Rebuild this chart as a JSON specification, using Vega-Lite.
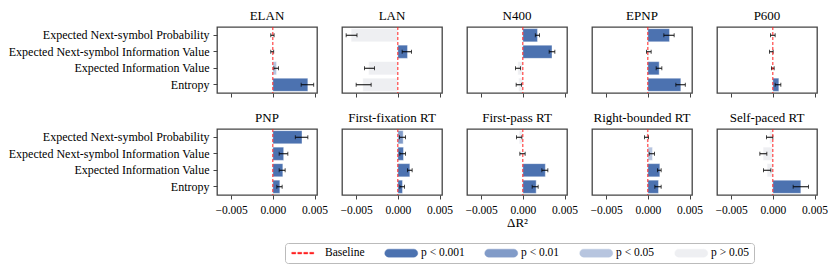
{
  "$schema": "https://vega.github.io/schema/vega-lite/v6.json",
  "padding": {"left": 7, "top": 8, "right": 5, "bottom": 5},
  "background": "white",
  "data": {"values": [
    {"panel": "ELAN", "measure": "Expected Next-symbol Probability", "value": -0.00005, "lo": -0.00025, "hi": 0.00015, "sig": "p > 0.05"},
    {"panel": "ELAN", "measure": "Expected Next-symbol Information Value", "value": -0.00008, "lo": -0.00025, "hi": 0.0001, "sig": "p > 0.05"},
    {"panel": "ELAN", "measure": "Expected Information Value", "value": 0.00044, "lo": 0.00012, "hi": 0.00068, "sig": "p < 0.05"},
    {"panel": "ELAN", "measure": "Entropy", "value": 0.0042, "lo": 0.0034, "hi": 0.0049, "sig": "p < 0.001"},
    {"panel": "LAN", "measure": "Expected Next-symbol Probability", "value": -0.0056, "lo": -0.0062, "hi": -0.0049, "sig": "p > 0.05"},
    {"panel": "LAN", "measure": "Expected Next-symbol Information Value", "value": 0.00116, "lo": 0.00052, "hi": 0.00164, "sig": "p < 0.001"},
    {"panel": "LAN", "measure": "Expected Information Value", "value": -0.0035, "lo": -0.004, "hi": -0.0028, "sig": "p > 0.05"},
    {"panel": "LAN", "measure": "Entropy", "value": -0.0042, "lo": -0.005, "hi": -0.0032, "sig": "p > 0.05"},
    {"panel": "N400", "measure": "Expected Next-symbol Probability", "value": 0.00176, "lo": 0.0015, "hi": 0.002, "sig": "p < 0.001"},
    {"panel": "N400", "measure": "Expected Next-symbol Information Value", "value": 0.0035, "lo": 0.00316, "hi": 0.00384, "sig": "p < 0.001"},
    {"panel": "N400", "measure": "Expected Information Value", "value": -0.0006, "lo": -0.00088, "hi": -0.00028, "sig": "p > 0.05"},
    {"panel": "N400", "measure": "Entropy", "value": -0.0005, "lo": -0.0008, "hi": -0.00016, "sig": "p > 0.05"},
    {"panel": "EPNP", "measure": "Expected Next-symbol Probability", "value": 0.0026, "lo": 0.00192, "hi": 0.00316, "sig": "p < 0.001"},
    {"panel": "EPNP", "measure": "Expected Next-symbol Information Value", "value": 0.00012, "lo": -0.00016, "hi": 0.0004, "sig": "p > 0.05"},
    {"panel": "EPNP", "measure": "Expected Information Value", "value": 0.00136, "lo": 0.001, "hi": 0.00168, "sig": "p < 0.001"},
    {"panel": "EPNP", "measure": "Entropy", "value": 0.00396, "lo": 0.00336, "hi": 0.0045, "sig": "p < 0.001"},
    {"panel": "P600", "measure": "Expected Next-symbol Probability", "value": 0.0, "lo": -0.00028, "hi": 0.00028, "sig": "p > 0.05"},
    {"panel": "P600", "measure": "Expected Next-symbol Information Value", "value": -0.0001, "lo": -0.0004, "hi": 0.00004, "sig": "p > 0.05"},
    {"panel": "P600", "measure": "Expected Information Value", "value": 0.0, "lo": -0.00016, "hi": 0.00016, "sig": "p > 0.05"},
    {"panel": "P600", "measure": "Entropy", "value": 0.00072, "lo": 0.00028, "hi": 0.00096, "sig": "p < 0.001"},
    {"panel": "PNP", "measure": "Expected Next-symbol Probability", "value": 0.0035, "lo": 0.0027, "hi": 0.0042, "sig": "p < 0.001"},
    {"panel": "PNP", "measure": "Expected Next-symbol Information Value", "value": 0.0013, "lo": 0.00076, "hi": 0.0018, "sig": "p < 0.001"},
    {"panel": "PNP", "measure": "Expected Information Value", "value": 0.0012, "lo": 0.00076, "hi": 0.00148, "sig": "p < 0.001"},
    {"panel": "PNP", "measure": "Entropy", "value": 0.00084, "lo": 0.00048, "hi": 0.00112, "sig": "p < 0.001"},
    {"panel": "First-fixation RT", "measure": "Expected Next-symbol Probability", "value": 0.00064, "lo": 0.0002, "hi": 0.00092, "sig": "p < 0.01"},
    {"panel": "First-fixation RT", "measure": "Expected Next-symbol Information Value", "value": 0.00068, "lo": 0.00024, "hi": 0.00092, "sig": "p < 0.001"},
    {"panel": "First-fixation RT", "measure": "Expected Information Value", "value": 0.00144, "lo": 0.00116, "hi": 0.00172, "sig": "p < 0.001"},
    {"panel": "First-fixation RT", "measure": "Entropy", "value": 0.00056, "lo": 0.00024, "hi": 0.0008, "sig": "p < 0.001"},
    {"panel": "First-pass RT", "measure": "Expected Next-symbol Probability", "value": -0.00044, "lo": -0.00076, "hi": -0.00012, "sig": "p > 0.05"},
    {"panel": "First-pass RT", "measure": "Expected Next-symbol Information Value", "value": -0.00004, "lo": -0.00036, "hi": 0.00028, "sig": "p > 0.05"},
    {"panel": "First-pass RT", "measure": "Expected Information Value", "value": 0.0027, "lo": 0.00228, "hi": 0.003, "sig": "p < 0.001"},
    {"panel": "First-pass RT", "measure": "Entropy", "value": 0.0016, "lo": 0.00112, "hi": 0.00184, "sig": "p < 0.001"},
    {"panel": "Right-bounded RT", "measure": "Expected Next-symbol Probability", "value": -0.00016, "lo": -0.0004, "hi": 0.00008, "sig": "p > 0.05"},
    {"panel": "Right-bounded RT", "measure": "Expected Next-symbol Information Value", "value": 0.00056, "lo": 0.00016, "hi": 0.0008, "sig": "p < 0.05"},
    {"panel": "Right-bounded RT", "measure": "Expected Information Value", "value": 0.00144, "lo": 0.00116, "hi": 0.0016, "sig": "p < 0.001"},
    {"panel": "Right-bounded RT", "measure": "Entropy", "value": 0.00128, "lo": 0.00084, "hi": 0.0016, "sig": "p < 0.001"},
    {"panel": "Self-paced RT", "measure": "Expected Next-symbol Probability", "value": -0.00038, "lo": -0.00076, "hi": 0.0, "sig": "p > 0.05"},
    {"panel": "Self-paced RT", "measure": "Expected Next-symbol Information Value", "value": -0.00116, "lo": -0.00156, "hi": -0.00072, "sig": "p > 0.05"},
    {"panel": "Self-paced RT", "measure": "Expected Information Value", "value": -0.00068, "lo": -0.00112, "hi": -0.00024, "sig": "p > 0.05"},
    {"panel": "Self-paced RT", "measure": "Entropy", "value": 0.00336, "lo": 0.00244, "hi": 0.00428, "sig": "p < 0.001"}
  ]},
  "columns": 5,
  "spacing": {"row": 36, "column": 25},
  "bounds": "flush",
  "concat": [
    {"title": "ELAN", "width": 100, "height": 66, "transform": [{"filter": "datum.panel === 'ELAN'"}],
     "layer": [
      {"mark": "bar", "encoding": {
        "y": {"field": "measure", "type": "nominal", "sort": ["Expected Next-symbol Probability", "Expected Next-symbol Information Value", "Expected Information Value", "Entropy"], "scale": {"paddingInner": 0.2, "paddingOuter": 0.1}, "axis": {"title": null, "labelLimit": 400, "labelPadding": 4, "labelFontSize": 12, "ticks": true}},
        "x": {"field": "value", "type": "quantitative", "scale": {"domain": [-0.0067, 0.0053], "nice": false, "zero": false}, "axis": {"title": null, "labels": false, "values": [-0.005, 0, 0.005]}},
        "color": {"field": "sig", "type": "nominal", "scale": {"domain": ["Baseline", "p < 0.001", "p < 0.01", "p < 0.05", "p > 0.05"], "range": ["#ff2020", "#4c72b0", "#819bc8", "#b7c5df", "#eeeff2"]},
          "legend": {"orient": "none", "legendX": 68, "legendY": 216, "direction": "horizontal", "title": null, "symbolSize": 100, "symbolOffset": 10.5, "labelOffset": 14, "columnPadding": 18, "padding": 4, "cornerRadius": 3, "strokeColor": "#bbbbbb", "fillColor": "white", "labelFont": "Liberation Serif", "labelFontSize": 11.5, "labelColor": "black", "symbolOpacity": 1,
            "symbolType": {"expr": "datum.value === 'Baseline' ? 'M-2.7,-0.16H-1.9V0.16H-2.7Z M-1.5,-0.16H-0.7V0.16H-1.5Z M-0.3,-0.16H0.5V0.16H-0.3Z M0.9,-0.16H1.7V0.16H0.9Z' : 'M-2.5,-0.8H2.5A0.8,0.8 0 0 1 2.5,0.8H-2.5A0.8,0.8 0 0 1 -2.5,-0.8Z'"},
            "symbolStrokeWidth": 0,
            "symbolStrokeColor": "transparent"
          }
        }
      }},
      {"mark": {"type": "errorbar", "color": "black", "thickness": 1, "ticks": {"size": 4}}, "encoding": {
        "y": {"field": "measure", "type": "nominal", "sort": ["Expected Next-symbol Probability", "Expected Next-symbol Information Value", "Expected Information Value", "Entropy"]},
        "x": {"field": "lo", "type": "quantitative"}, "x2": {"field": "hi"}}},
      {"transform": [{"filter": "datum.measure === 'Entropy'"}], "mark": {"type": "rule", "strokeDash": [3, 2], "strokeWidth": 1}, "encoding": {"x": {"datum": 0}, "color": {"datum": "Baseline", "type": "nominal"}}}
     ]},
    {"title": "LAN", "width": 100, "height": 66, "transform": [{"filter": "datum.panel === 'LAN'"}],
     "layer": [
      {"mark": "bar", "encoding": {
        "y": {"field": "measure", "type": "nominal", "sort": ["Expected Next-symbol Probability", "Expected Next-symbol Information Value", "Expected Information Value", "Entropy"], "scale": {"paddingInner": 0.2, "paddingOuter": 0.1}, "axis": null},
        "x": {"field": "value", "type": "quantitative", "scale": {"domain": [-0.0067, 0.0053], "nice": false, "zero": false}, "axis": {"title": null, "labels": false, "values": [-0.005, 0, 0.005]}},
        "color": {"field": "sig", "type": "nominal"}}},
      {"mark": {"type": "errorbar", "color": "black", "thickness": 1, "ticks": {"size": 4}}, "encoding": {
        "y": {"field": "measure", "type": "nominal", "sort": ["Expected Next-symbol Probability", "Expected Next-symbol Information Value", "Expected Information Value", "Entropy"]},
        "x": {"field": "lo", "type": "quantitative"}, "x2": {"field": "hi"}}},
      {"transform": [{"filter": "datum.measure === 'Entropy'"}], "mark": {"type": "rule", "strokeDash": [3, 2], "strokeWidth": 1}, "encoding": {"x": {"datum": 0}, "color": {"datum": "Baseline", "type": "nominal"}}}
     ]},
    {"title": "N400", "width": 100, "height": 66, "transform": [{"filter": "datum.panel === 'N400'"}],
     "layer": [
      {"mark": "bar", "encoding": {
        "y": {"field": "measure", "type": "nominal", "sort": ["Expected Next-symbol Probability", "Expected Next-symbol Information Value", "Expected Information Value", "Entropy"], "scale": {"paddingInner": 0.2, "paddingOuter": 0.1}, "axis": null},
        "x": {"field": "value", "type": "quantitative", "scale": {"domain": [-0.0067, 0.0053], "nice": false, "zero": false}, "axis": {"title": null, "labels": false, "values": [-0.005, 0, 0.005]}},
        "color": {"field": "sig", "type": "nominal"}}},
      {"mark": {"type": "errorbar", "color": "black", "thickness": 1, "ticks": {"size": 4}}, "encoding": {
        "y": {"field": "measure", "type": "nominal", "sort": ["Expected Next-symbol Probability", "Expected Next-symbol Information Value", "Expected Information Value", "Entropy"]},
        "x": {"field": "lo", "type": "quantitative"}, "x2": {"field": "hi"}}},
      {"transform": [{"filter": "datum.measure === 'Entropy'"}], "mark": {"type": "rule", "strokeDash": [3, 2], "strokeWidth": 1}, "encoding": {"x": {"datum": 0}, "color": {"datum": "Baseline", "type": "nominal"}}}
     ]},
    {"title": "EPNP", "width": 100, "height": 66, "transform": [{"filter": "datum.panel === 'EPNP'"}],
     "layer": [
      {"mark": "bar", "encoding": {
        "y": {"field": "measure", "type": "nominal", "sort": ["Expected Next-symbol Probability", "Expected Next-symbol Information Value", "Expected Information Value", "Entropy"], "scale": {"paddingInner": 0.2, "paddingOuter": 0.1}, "axis": null},
        "x": {"field": "value", "type": "quantitative", "scale": {"domain": [-0.0067, 0.0053], "nice": false, "zero": false}, "axis": {"title": null, "labels": false, "values": [-0.005, 0, 0.005]}},
        "color": {"field": "sig", "type": "nominal"}}},
      {"mark": {"type": "errorbar", "color": "black", "thickness": 1, "ticks": {"size": 4}}, "encoding": {
        "y": {"field": "measure", "type": "nominal", "sort": ["Expected Next-symbol Probability", "Expected Next-symbol Information Value", "Expected Information Value", "Entropy"]},
        "x": {"field": "lo", "type": "quantitative"}, "x2": {"field": "hi"}}},
      {"transform": [{"filter": "datum.measure === 'Entropy'"}], "mark": {"type": "rule", "strokeDash": [3, 2], "strokeWidth": 1}, "encoding": {"x": {"datum": 0}, "color": {"datum": "Baseline", "type": "nominal"}}}
     ]},
    {"title": "P600", "width": 100, "height": 66, "transform": [{"filter": "datum.panel === 'P600'"}],
     "layer": [
      {"mark": "bar", "encoding": {
        "y": {"field": "measure", "type": "nominal", "sort": ["Expected Next-symbol Probability", "Expected Next-symbol Information Value", "Expected Information Value", "Entropy"], "scale": {"paddingInner": 0.2, "paddingOuter": 0.1}, "axis": null},
        "x": {"field": "value", "type": "quantitative", "scale": {"domain": [-0.0067, 0.0053], "nice": false, "zero": false}, "axis": {"title": null, "labels": false, "values": [-0.005, 0, 0.005]}},
        "color": {"field": "sig", "type": "nominal"}}},
      {"mark": {"type": "errorbar", "color": "black", "thickness": 1, "ticks": {"size": 4}}, "encoding": {
        "y": {"field": "measure", "type": "nominal", "sort": ["Expected Next-symbol Probability", "Expected Next-symbol Information Value", "Expected Information Value", "Entropy"]},
        "x": {"field": "lo", "type": "quantitative"}, "x2": {"field": "hi"}}},
      {"transform": [{"filter": "datum.measure === 'Entropy'"}], "mark": {"type": "rule", "strokeDash": [3, 2], "strokeWidth": 1}, "encoding": {"x": {"datum": 0}, "color": {"datum": "Baseline", "type": "nominal"}}}
     ]},
    {"title": "PNP", "width": 100, "height": 66, "transform": [{"filter": "datum.panel === 'PNP'"}],
     "layer": [
      {"mark": "bar", "encoding": {
        "y": {"field": "measure", "type": "nominal", "sort": ["Expected Next-symbol Probability", "Expected Next-symbol Information Value", "Expected Information Value", "Entropy"], "scale": {"paddingInner": 0.2, "paddingOuter": 0.1}, "axis": {"title": null, "labelLimit": 400, "labelPadding": 4, "labelFontSize": 12, "ticks": true}},
        "x": {"field": "value", "type": "quantitative", "scale": {"domain": [-0.0067, 0.0053], "nice": false, "zero": false}, "axis": {"title": null, "format": ".3f", "labelPadding": 5, "values": [-0.005, 0, 0.005]}},
        "color": {"field": "sig", "type": "nominal"}}},
      {"mark": {"type": "errorbar", "color": "black", "thickness": 1, "ticks": {"size": 4}}, "encoding": {
        "y": {"field": "measure", "type": "nominal", "sort": ["Expected Next-symbol Probability", "Expected Next-symbol Information Value", "Expected Information Value", "Entropy"]},
        "x": {"field": "lo", "type": "quantitative"}, "x2": {"field": "hi"}}},
      {"transform": [{"filter": "datum.measure === 'Entropy'"}], "mark": {"type": "rule", "strokeDash": [3, 2], "strokeWidth": 1}, "encoding": {"x": {"datum": 0}, "color": {"datum": "Baseline", "type": "nominal"}}}
     ]},
    {"title": "First-fixation RT", "width": 100, "height": 66, "transform": [{"filter": "datum.panel === 'First-fixation RT'"}],
     "layer": [
      {"mark": "bar", "encoding": {
        "y": {"field": "measure", "type": "nominal", "sort": ["Expected Next-symbol Probability", "Expected Next-symbol Information Value", "Expected Information Value", "Entropy"], "scale": {"paddingInner": 0.2, "paddingOuter": 0.1}, "axis": null},
        "x": {"field": "value", "type": "quantitative", "scale": {"domain": [-0.0067, 0.0053], "nice": false, "zero": false}, "axis": {"title": null, "format": ".3f", "labelPadding": 5, "values": [-0.005, 0, 0.005]}},
        "color": {"field": "sig", "type": "nominal"}}},
      {"mark": {"type": "errorbar", "color": "black", "thickness": 1, "ticks": {"size": 4}}, "encoding": {
        "y": {"field": "measure", "type": "nominal", "sort": ["Expected Next-symbol Probability", "Expected Next-symbol Information Value", "Expected Information Value", "Entropy"]},
        "x": {"field": "lo", "type": "quantitative"}, "x2": {"field": "hi"}}},
      {"transform": [{"filter": "datum.measure === 'Entropy'"}], "mark": {"type": "rule", "strokeDash": [3, 2], "strokeWidth": 1}, "encoding": {"x": {"datum": 0}, "color": {"datum": "Baseline", "type": "nominal"}}}
     ]},
    {"title": "First-pass RT", "width": 100, "height": 66, "transform": [{"filter": "datum.panel === 'First-pass RT'"}],
     "layer": [
      {"mark": "bar", "encoding": {
        "y": {"field": "measure", "type": "nominal", "sort": ["Expected Next-symbol Probability", "Expected Next-symbol Information Value", "Expected Information Value", "Entropy"], "scale": {"paddingInner": 0.2, "paddingOuter": 0.1}, "axis": null},
        "x": {"field": "value", "type": "quantitative", "title": "ΔR²", "scale": {"domain": [-0.0067, 0.0053], "nice": false, "zero": false}, "axis": {"titleFontSize": 13, "titleFontWeight": "normal", "titlePadding": 1, "format": ".3f", "labelPadding": 5, "values": [-0.005, 0, 0.005]}},
        "color": {"field": "sig", "type": "nominal"}}},
      {"mark": {"type": "errorbar", "color": "black", "thickness": 1, "ticks": {"size": 4}}, "encoding": {
        "y": {"field": "measure", "type": "nominal", "sort": ["Expected Next-symbol Probability", "Expected Next-symbol Information Value", "Expected Information Value", "Entropy"]},
        "x": {"field": "lo", "type": "quantitative", "title": "ΔR²"}, "x2": {"field": "hi"}}},
      {"transform": [{"filter": "datum.measure === 'Entropy'"}], "mark": {"type": "rule", "strokeDash": [3, 2], "strokeWidth": 1}, "encoding": {"x": {"datum": 0}, "color": {"datum": "Baseline", "type": "nominal"}}}
     ]},
    {"title": "Right-bounded RT", "width": 100, "height": 66, "transform": [{"filter": "datum.panel === 'Right-bounded RT'"}],
     "layer": [
      {"mark": "bar", "encoding": {
        "y": {"field": "measure", "type": "nominal", "sort": ["Expected Next-symbol Probability", "Expected Next-symbol Information Value", "Expected Information Value", "Entropy"], "scale": {"paddingInner": 0.2, "paddingOuter": 0.1}, "axis": null},
        "x": {"field": "value", "type": "quantitative", "scale": {"domain": [-0.0067, 0.0053], "nice": false, "zero": false}, "axis": {"title": null, "format": ".3f", "labelPadding": 5, "values": [-0.005, 0, 0.005]}},
        "color": {"field": "sig", "type": "nominal"}}},
      {"mark": {"type": "errorbar", "color": "black", "thickness": 1, "ticks": {"size": 4}}, "encoding": {
        "y": {"field": "measure", "type": "nominal", "sort": ["Expected Next-symbol Probability", "Expected Next-symbol Information Value", "Expected Information Value", "Entropy"]},
        "x": {"field": "lo", "type": "quantitative"}, "x2": {"field": "hi"}}},
      {"transform": [{"filter": "datum.measure === 'Entropy'"}], "mark": {"type": "rule", "strokeDash": [3, 2], "strokeWidth": 1}, "encoding": {"x": {"datum": 0}, "color": {"datum": "Baseline", "type": "nominal"}}}
     ]},
    {"title": "Self-paced RT", "width": 100, "height": 66, "transform": [{"filter": "datum.panel === 'Self-paced RT'"}],
     "layer": [
      {"mark": "bar", "encoding": {
        "y": {"field": "measure", "type": "nominal", "sort": ["Expected Next-symbol Probability", "Expected Next-symbol Information Value", "Expected Information Value", "Entropy"], "scale": {"paddingInner": 0.2, "paddingOuter": 0.1}, "axis": null},
        "x": {"field": "value", "type": "quantitative", "scale": {"domain": [-0.0067, 0.0053], "nice": false, "zero": false}, "axis": {"title": null, "format": ".3f", "labelPadding": 5, "values": [-0.005, 0, 0.005]}},
        "color": {"field": "sig", "type": "nominal"}}},
      {"mark": {"type": "errorbar", "color": "black", "thickness": 1, "ticks": {"size": 4}}, "encoding": {
        "y": {"field": "measure", "type": "nominal", "sort": ["Expected Next-symbol Probability", "Expected Next-symbol Information Value", "Expected Information Value", "Entropy"]},
        "x": {"field": "lo", "type": "quantitative"}, "x2": {"field": "hi"}}},
      {"transform": [{"filter": "datum.measure === 'Entropy'"}], "mark": {"type": "rule", "strokeDash": [3, 2], "strokeWidth": 1}, "encoding": {"x": {"datum": 0}, "color": {"datum": "Baseline", "type": "nominal"}}}
     ]}
  ],
  "config": {
    "font": "Liberation Serif",
    "view": {"stroke": "#444444", "strokeWidth": 1.3},
    "axis": {"labelFont": "Liberation Serif", "labelFontSize": 11.5, "labelColor": "black", "tickColor": "#444444", "tickSize": 4, "tickWidth": 1, "domain": false, "grid": false, "titleFont": "Liberation Serif", "titleColor": "black", "labelPadding": 2},
    "title": {"font": "Liberation Serif", "fontSize": 13, "fontWeight": "normal", "color": "black", "offset": 4},
    "bar": {"stroke": "white", "strokeWidth": 0.4}
  }
}
